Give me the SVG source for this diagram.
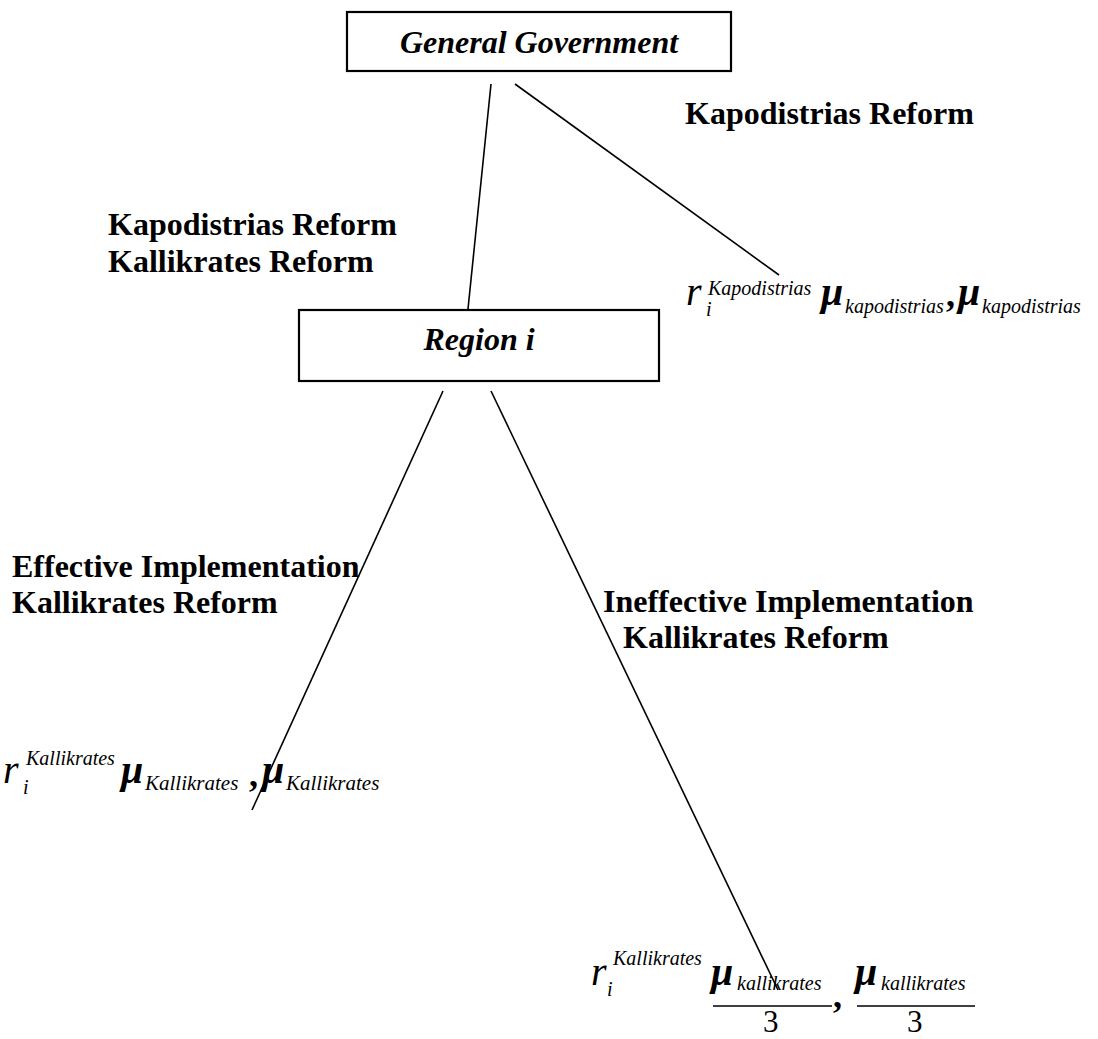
<svg xmlns="http://www.w3.org/2000/svg" width="1098" height="1039" viewBox="0 0 1098 1039">
<style>
.box{fill:#fff;stroke:#000;stroke-width:2.2}
.ln{stroke:#000;stroke-width:1.6;fill:none}
.nt{font-family:"Liberation Serif","Times New Roman",serif;font-size:32px;font-weight:bold;font-style:italic;fill:#000}
.lb{font-family:"Liberation Serif","Times New Roman",serif;font-size:32px;font-weight:bold;fill:#000}
.m{font-family:"Liberation Serif","Times New Roman",serif;font-style:italic;fill:#000}
.r{font-size:40px}
.s{font-size:20px}
.mu{font-size:40px;font-weight:bold}
.cm{font-size:36px;font-style:normal;font-weight:bold}
.th{font-family:"Liberation Serif","Times New Roman",serif;font-size:31px;fill:#000}
.bar{stroke:#000;stroke-width:1.4}
</style>
<rect width="1098" height="1039" fill="#fff"/>
<g id="connectors">
<line class="ln" x1="491" y1="84" x2="468" y2="309"/>
<line class="ln" x1="515" y1="84" x2="779" y2="275"/>
<line class="ln" x1="443" y1="391" x2="252" y2="810"/>
<line class="ln" x1="491" y1="391" x2="778" y2="990"/>
</g>
<g id="general-government">
<rect class="box" x="347" y="12" width="384" height="59"/>
<text class="nt" x="539" y="53" text-anchor="middle">General Government</text>
</g>
<g id="region-i">
<rect class="box" x="299" y="310" width="360" height="71"/>
<text class="nt" x="479" y="350" text-anchor="middle">Region i</text>
</g>
<g id="label-top-right">
<text class="lb" x="685" y="124">Kapodistrias Reform</text>
</g>
<g id="label-left">
<text class="lb" x="108" y="235">Kapodistrias Reform</text>
<text class="lb" x="108" y="272">Kallikrates Reform</text>
</g>
<g id="label-effective">
<text class="lb" x="12" y="577">Effective Implementation</text>
<text class="lb" x="12" y="613">Kallikrates Reform</text>
</g>
<g id="label-ineffective">
<text class="lb" x="603" y="612">Ineffective Implementation</text>
<text class="lb" x="623" y="648">Kallikrates Reform</text>
</g>
<g id="payoff-kapodistrias">
<text class="m r" x="686" y="305">r</text>
<text class="m s" x="708" y="295">Kapodistrias</text>
<text class="m s" x="706" y="316">i</text>
<text class="m mu" x="821" y="305">μ</text>
<text class="m s" x="845" y="313">kapodistrias</text>
<text class="m cm" x="946" y="306">,</text>
<text class="m mu" x="958" y="305">μ</text>
<text class="m s" x="982" y="313">kapodistrias</text>
</g>
<g id="payoff-effective">
<text class="m r" x="3" y="783">r</text>
<text class="m s" x="26" y="765">Kallikrates</text>
<text class="m s" x="23" y="794">i</text>
<text class="m mu" x="121" y="783">μ</text>
<text class="m s" x="145" y="790" style="font-size:21px">Kallikrates</text>
<text class="m cm" x="249" y="786">,</text>
<text class="m mu" x="262" y="783">μ</text>
<text class="m s" x="286" y="790" style="font-size:21px">Kallikrates</text>
</g>
<g id="payoff-ineffective">
<text class="m r" x="591" y="985">r</text>
<text class="m s" x="613" y="965">Kallikrates</text>
<text class="m s" x="607" y="996">i</text>
<text class="m mu" x="711" y="985">μ</text>
<text class="m s" x="737" y="990">kallikrates</text>
<line class="bar" x1="713" y1="1006" x2="832" y2="1006"/>
<text class="th" x="763" y="1032">3</text>
<text class="m cm" x="833" y="1007">,</text>
<text class="m mu" x="855" y="985">μ</text>
<text class="m s" x="881" y="990">kallikrates</text>
<line class="bar" x1="857" y1="1006" x2="975" y2="1006"/>
<text class="th" x="907" y="1032">3</text>
</g>
</svg>
